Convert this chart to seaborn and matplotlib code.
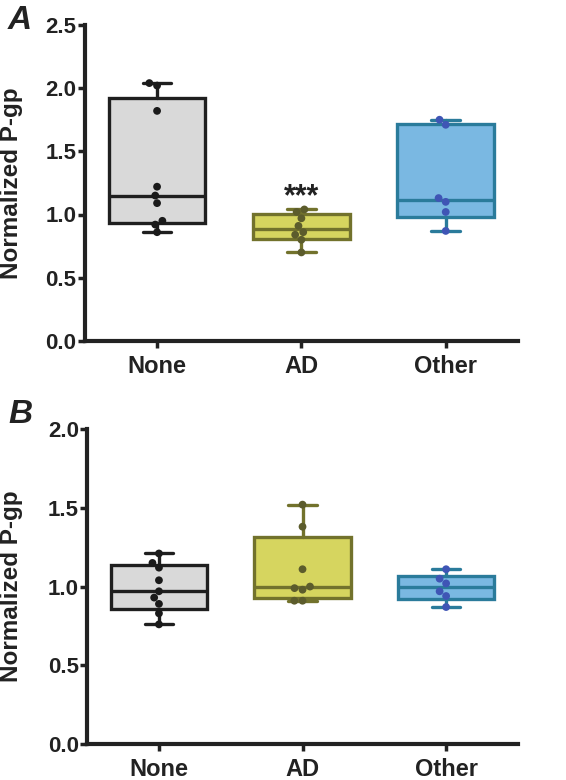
import numpy as np
import pandas as pd
import seaborn as sns
import matplotlib
matplotlib.use("Agg")
import matplotlib.pyplot as plt

# --------------------------------------------------------------------------
# Data
# --------------------------------------------------------------------------
GROUPS = ["None", "AD", "Other"]

A_NONE = [2.04, 2.02, 1.82, 1.22, 1.15, 1.09, 0.95, 0.92, 0.86]
A_AD = [1.04, 1.02, 0.97, 0.91, 0.86, 0.84, 0.80, 0.70]
A_OTHER = [1.75, 1.71, 1.13, 1.10, 1.02, 0.87]

B_NONE = [1.21, 1.15, 1.12, 1.04, 0.97, 0.93, 0.89, 0.83, 0.76]
B_AD = [1.52, 1.38, 1.11, 1.00, 0.99, 0.98, 0.91, 0.91]
B_OTHER = [1.11, 1.05, 1.02, 0.97, 0.94, 0.87]

A_YMAX = 2.5
B_YMAX = 2.0
A_SIGNIF = "***"   # AD vs None, panel A

# --------------------------------------------------------------------------
# Style
# --------------------------------------------------------------------------
FILL = {"None": "#d9d9d9", "AD": "#d6d55f", "Other": "#7ab8e2"}
EDGE = {"None": "#1f1f1f", "AD": "#72722c", "Other": "#2a7b9b"}
DOT = {"None": "#1a1a1a", "AD": "#5c5c2c", "Other": "#3f55b5"}
INK = "#222222"

sns.set_theme(style="ticks")
plt.rcParams["font.family"] = ["Liberation Sans", "DejaVu Sans"]
plt.rcParams["font.weight"] = "bold"


def to_frame(none, ad, other):
    return pd.DataFrame({
        "group": ["None"] * len(none) + ["AD"] * len(ad) + ["Other"] * len(other),
        "value": none + ad + other,
    })


def box_stats(values, label):
    # GraphPad style quartiles, whiskers at min / max
    v = np.asarray(values, dtype=float)
    q1, med, q3 = np.percentile(v, [25, 50, 75], method="weibull")
    return dict(label=label, med=med, q1=q1, q3=q3,
                whislo=v.min(), whishi=v.max(), fliers=[])


def draw_panel(ax, data, ymax, label_x):
    sns.swarmplot(data=data, x="group", y="value", hue="group",
                  order=GROUPS, hue_order=GROUPS, palette=DOT,
                  size=5.6, legend=False, ax=ax, zorder=4)

    for i, g in enumerate(GROUPS):
        vals = data.loc[data["group"] == g, "value"]
        lw = 2.4
        ax.bxp([box_stats(vals, g)], positions=[i], widths=0.67,
               capwidths=0.2, patch_artist=True, showfliers=False,
               manage_ticks=False, zorder=2,
               boxprops=dict(facecolor=FILL[g], edgecolor=EDGE[g], linewidth=lw),
               medianprops=dict(color=EDGE[g], linewidth=lw),
               whiskerprops=dict(color=EDGE[g], linewidth=lw),
               capprops=dict(color=EDGE[g], linewidth=lw))

    ax.set_xlim(-0.5, 2.5)
    ax.set_ylim(0, ymax)
    ax.set_yticks(np.arange(0, ymax + 0.01, 0.5))
    ax.set_yticklabels([f"{t:.1f}" for t in np.arange(0, ymax + 0.01, 0.5)])
    ax.set_xlabel("")
    ax.set_ylabel("Normalized P-gp", fontsize=17.5, fontweight="bold", color=INK)
    ax.yaxis.set_label_coords(label_x, 0.5)

    sns.despine(ax=ax)
    for side in ("left", "bottom"):
        ax.spines[side].set_linewidth(3)
        ax.spines[side].set_color(INK)
    ax.tick_params(axis="both", direction="out", length=5, width=2.5,
                   color=INK, labelcolor=INK)
    ax.tick_params(axis="y", labelsize=16, pad=1)
    ax.tick_params(axis="x", labelsize=17, pad=5)
    for lab in ax.get_xticklabels() + ax.get_yticklabels():
        lab.set_fontweight("bold")


fig = plt.figure(figsize=(5.66, 7.80), dpi=100)
ax_a = fig.add_axes([0.150, 0.563, 0.765, 0.405])
ax_b = fig.add_axes([0.154, 0.046, 0.761, 0.404])

draw_panel(ax_a, to_frame(A_NONE, A_AD, A_OTHER), A_YMAX, -0.143)
draw_panel(ax_b, to_frame(B_NONE, B_AD, B_OTHER), B_YMAX, -0.149)

ax_a.text(1, 1.07, A_SIGNIF, ha="center", va="baseline", fontsize=22,
          fontweight="bold", color=INK)

fig.text(0.014, 0.993, "A", ha="left", va="top", fontsize=24,
         fontweight="bold", fontstyle="italic", color=INK)
fig.text(0.014, 0.489, "B", ha="left", va="top", fontsize=24,
         fontweight="bold", fontstyle="italic", color=INK)

fig.savefig("out.png", dpi=100)
